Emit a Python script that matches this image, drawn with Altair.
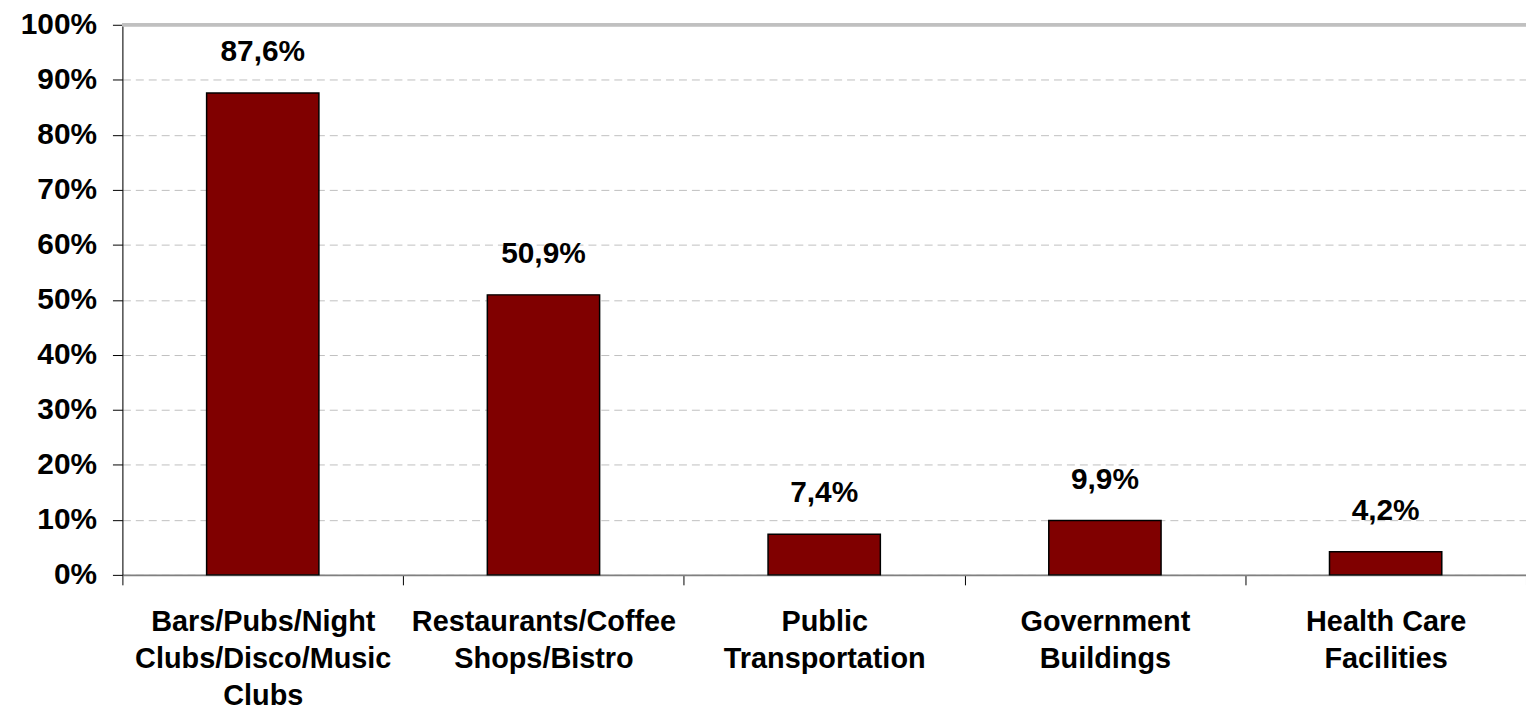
import altair as alt
import pandas as pd

categories = [
    "Bars/Pubs/Night|Clubs/Disco/Music|Clubs",
    "Restaurants/Coffee|Shops/Bistro",
    "Public|Transportation",
    "Government|Buildings",
    "Health Care|Facilities",
]
values = [0.876, 0.509, 0.074, 0.099, 0.042]
value_labels = ["87,6%", "50,9%", "7,4%", "9,9%", "4,2%"]
y_ticks = [0.0, 0.1, 0.2, 0.3, 0.4, 0.5, 0.6, 0.7, 0.8, 0.9, 1.0]

df = pd.DataFrame({"cat": categories, "value": values, "label": value_labels})

FONT = "Liberation Sans"
FS = 30

x_enc = alt.X(
    "cat:N",
    sort=None,
    title=None,
    scale=alt.Scale(paddingInner=0, paddingOuter=0),
    axis=alt.Axis(
        labelExpr="split(datum.label, '|')",
        labelAngle=0,
        labelLimit=0,
        tickBand="extent",
        grid=False,
        domainColor="#808080",
        domainWidth=2,
        tickColor="#000000",
        tickSize=10,
        tickWidth=1,
        labelPadding=23,
        labelLineHeight=37,
        labelFont=FONT,
        labelFontSize=29,
        labelFontWeight="bold",
        labelColor="#000000",
        labelBaseline="top",
    ),
)
y_enc = alt.Y(
    "value:Q",
    title=None,
    scale=alt.Scale(domain=[0, 1], nice=False),
    axis=alt.Axis(
        values=y_ticks,
        format=".0%",
        grid=True,
        gridColor="#c0c0c0",
        gridDash=[8, 5],
        gridWidth=1,
        domainColor="#000000",
        domainWidth=1,
        tickColor="#000000",
        tickSize=10,
        labelPadding=16,
        labelFont=FONT,
        labelFontSize=FS,
        labelFontWeight="bold",
        labelColor="#000000",
    ),
)

base = alt.Chart(df)

bars = base.mark_bar(
    color="#800000", stroke="#000000", strokeWidth=1.5,
    width=alt.RelativeBandSize(0.4),
).encode(x=x_enc, y=y_enc)

texts = base.mark_text(
    dy=-32, baseline="alphabetic", align="center",
    font=FONT, fontSize=FS, fontWeight="bold", color="#000000"
).encode(x=alt.X("cat:N", sort=None), y=alt.Y("value:Q"), text="label:N")

top_rule = base.mark_rule(color="#c0c0c0", strokeWidth=3).encode(y=alt.datum(1.0))

chart = (
    alt.layer(bars, top_rule, texts)
    .properties(
        width=1411,
        height=553,
        autosize=alt.AutoSizeParams(type="none"),
        padding={"left": 115, "top": 15, "right": 0, "bottom": 138},
    )
    .configure_view(stroke=None)
    .configure(background="#ffffff")
)

chart.save("out.html", embed_options={"renderer": "svg", "actions": False})
